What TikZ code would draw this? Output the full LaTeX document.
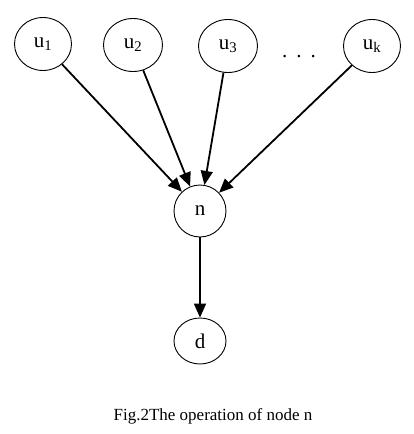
\documentclass[tikz,border=0pt]{standalone}
\usepackage{fontspec}
\setmainfont{Liberation Serif}
\usetikzlibrary{shapes.geometric, arrows.meta}

\begin{document}
\begin{tikzpicture}[x=1pt, y=-1pt,
  var/.style={draw, line width=0.9pt, ellipse, minimum width=57pt, minimum height=53pt, inner sep=0pt, font=\fontsize{21}{24}\selectfont},
  link/.style={line width=1.8pt, -{Triangle[length=14pt, width=12pt]}}]
  \useasboundingbox (0, 0) rectangle (414, 434);
  % input nodes
  \node[var] (u1) at (43, 44) {u\textsubscript{1}};
  \node[var, minimum width=59pt] (u2) at (133, 45) {u\textsubscript{2}};
  \node[var, minimum width=59pt] (u3) at (228, 46) {u\textsubscript{3}};
  \node[anchor=base, font=\fontsize{21}{24}\selectfont] (dots) at (299, 57) {.\hspace{9pt}.\hspace{9pt}.};
  \node[var] (uk) at (372, 46) {u\textsubscript{k}};
  % node n and its output
  \node[var, minimum width=52pt, minimum height=52pt] (n) at (200, 211) {n};
  \node[var, minimum width=52pt, minimum height=46pt] (d) at (200, 341) {d};
  \foreach \u in {u1, u2, u3, uk}
    \draw[link] (\u) -- (n);
  \draw[link] (n) -- (d);
  \node[anchor=base, font=\fontsize{17}{20}\selectfont] (caption) at (213, 420) {Fig.2The operation of node n};
\end{tikzpicture}
\end{document}
